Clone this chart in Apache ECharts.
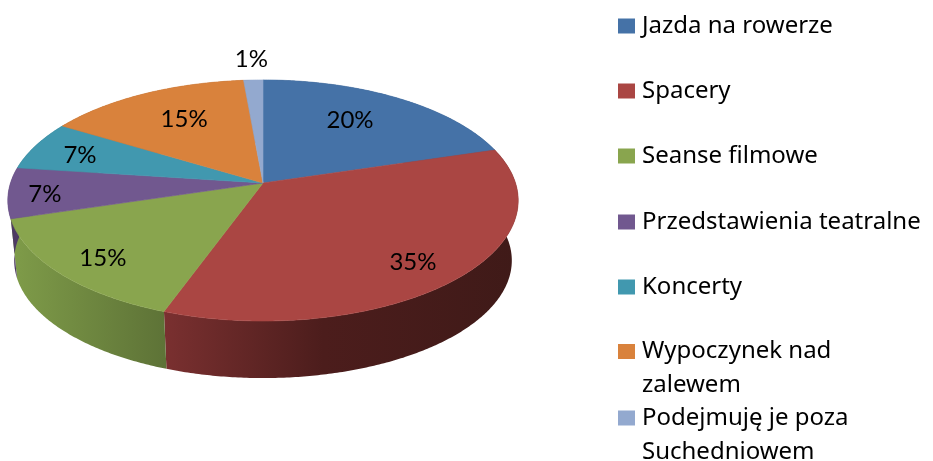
<!DOCTYPE html>
<html><head><meta charset="utf-8">
<style>html,body{margin:0;padding:0;background:#fff}#c{width:933px;height:461px}</style>
<script src="https://cdn.jsdelivr.net/npm/echarts@6/dist/echarts.min.js"></script>
</head><body><div id="c"></div>
<script>
const categories = ['Jazda na rowerze','Spacery','Seanse filmowe','Przedstawienia teatralne','Koncerty','Wypoczynek nad\nzalewem','Podejmuję je poza\nSuchedniowem'];
const values = [20.3,35.2,14.8,6.8,6.6,14.9,1.4];
const colors = ['#4572A7','#AA4643','#89A54E','#71588F','#4198AF','#D9823C','#93A9CF'];

// Side-wall shading per slice, left to right across the slice's extent
const wallStops = [
  [[0,'#2c4a6e'],[1,'#2c4a6e']],
  [[0,'#7a3030'],[0.45,'#4c1d1c'],[1,'#3f1a18']],
  [[0,'#7f9c49'],[1,'#5e7337']],
  [[0,'#4d3a63'],[1,'#4d3a63']],
  [[0,'#2b6677'],[1,'#2b6677']],
  [[0,'#915726'],[1,'#915726']],
  [[0,'#62718a'],[1,'#62718a']]
];
// Label placement in pie space: fraction of radius and angle nudge (degrees)
const labelRadius = [0.689,0.816,0.822,0.857,0.79,0.679,1.24];
const labelNudge = [-3.7,2,-1.5,-1.5,-1.3,1.9,0];

const legendCenters = [24.5,89.5,154.5,220.5,285.5,350,416.5];

// Projection of the tilted disc
const P = {cx:263, cy:183, a:252.5, b:118, k:0.145, drop:60.5, bottomScale:0.975};
function project(theta, r, lower){
  const X = r*Math.sin(theta), Y = -r*Math.cos(theta), w = 1 - P.k*Y;
  const px = P.a*X/w, py = P.b*Y/w;
  if(lower) return [P.cx + px*P.bottomScale, P.cy + P.drop + py*P.bottomScale];
  return [P.cx + px, P.cy + py];
}
const total = values.reduce((s,v)=>s+v,0);
let acc = 0;
const ranges = values.map(v=>{const s=acc/total*2*Math.PI; acc+=v; return [s, acc/total*2*Math.PI];});

function arc(s,e,lower){
  const n = Math.max(2, Math.ceil((e-s)/0.01)), pts=[];
  for(let i=0;i<=n;i++) pts.push(project(s+(e-s)*i/n,1,lower));
  return pts;
}
function renderSlice(i){
  return function(params, api){
    const v = api.value(0);
    const [s,e] = ranges[i];
    const top = arc(s,e,false), bottom = arc(s,e,true);
    const xs = top.map(p=>p[0]);
    const mid = (s+e)/2 + labelNudge[i]*Math.PI/180;
    const lp = project(mid, labelRadius[i], false);
    return {type:'group', children:[
      {type:'polygon', z2:1, shape:{points:top.concat(bottom.slice().reverse())},
       style:{fill:new echarts.graphic.LinearGradient(Math.min(...xs),0,Math.max(...xs),0,
         wallStops[i].map(d=>({offset:d[0],color:d[1]})),true), stroke:null}},
      {type:'polygon', z2:2, shape:{points:[[P.cx,P.cy]].concat(top)},
       style:{fill:colors[i], stroke:colors[i], lineWidth:0.6}},
      {type:'text', z2:3, style:{x:lp[0], y:lp[1], text:Math.round(v)+'%', align:'center', verticalAlign:'middle',
       fill:'#000', font:'24px Lato'}}
    ]};
  };
}
const series = categories.map((name,i)=>({
  type:'custom', name, coordinateSystem:'none', silent:true,
  itemStyle:{color:colors[i]}, data:[[values[i]]], renderItem:renderSlice(i), animation:false
}));
const lineH = 34;
const legend = categories.map((name,i)=>{
  const wrapped = name.indexOf('\n')>=0;
  const blockH = wrapped ? lineH*3 : lineH;
  return {
    data:[{name, icon:'rect'}], left:618, top:legendCenters[i]-blockH/2, padding:0, orient:'vertical',
    itemWidth:17, itemHeight:15, itemGap:0, selectedMode:false,
    formatter: n => wrapped ? '\n'+n : n,
    textStyle:{fontFamily:'Noto Sans', fontSize:24, color:'#000', lineHeight:lineH, padding:[3,0,0,2]}
  };
});
const chart = echarts.init(document.getElementById('c'), null, {renderer:'canvas'});
chart.setOption({animation:false, backgroundColor:'#fff', legend, series});
</script></body></html>
